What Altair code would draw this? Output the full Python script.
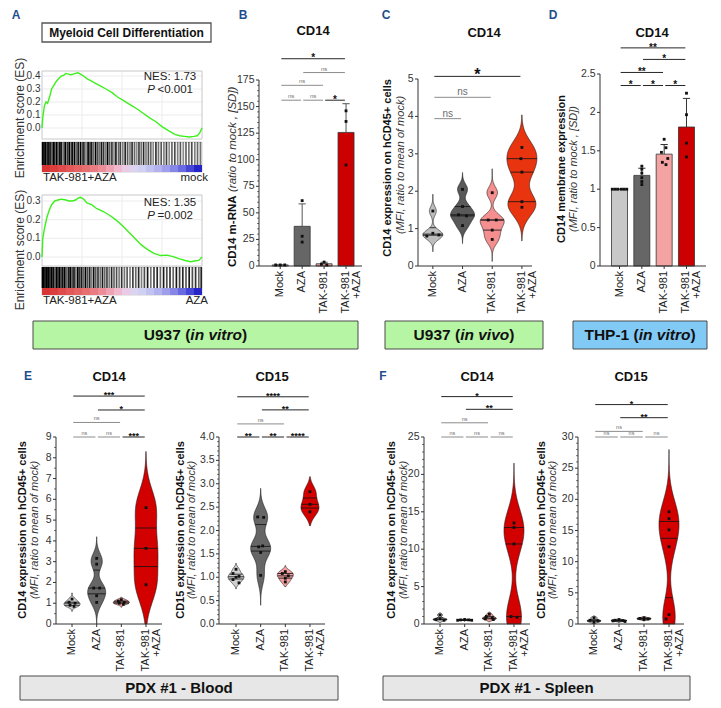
import altair as alt
import pandas as pd

FONT = "Liberation Sans"
LETTER = "#1f4e8c"
OX, OY = 8, 8           # page margin: page px -> chart px
W_ALL, H_ALL = 705, 692

# ------------------------------------------------------------------ texts
cat_labels = ["Mock", "AZA", "TAK-981", "TAK-981\n+AZA"]
gsea_title = "Myeloid Cell Differentiation"
es_axis_title = "Enrichment score (ES)"
es1_stats = ["NES: 1.73", "P", "<0.001"]
es2_stats = ["NES: 1.35", "P", "=0.002"]
bc1_ends = ["TAK-981+AZA", "mock"]
bc2_ends = ["TAK-981+AZA", "AZA"]
b_ytitle = ["CD14 m-RNA", "(ratio to mock , [SD])"]
c_ytitle = ["CD14 expression on hCD45+ cells", "(MFI, ratio to mean of mock)"]
d_ytitle = ["CD14 membrane expression", "(MFI, ratio to mock , [SD])"]
cd15_ytitle = ["CD15 expression on hCD45+ cells", "(MFI, ratio to mean of mock)"]
banner_top = [("U937 (", "in vitro", ")"), ("U937 (", "in vivo", ")"), ("THP-1 (", "in vitro", ")")]
banner_bottom = ["PDX #1 - Blood", "PDX #1 - Spleen"]

# ------------------------------------------------------------------ tick values / labels
es1_ticks = [0.0, 0.1, 0.2, 0.3, 0.4]
es1_tlabels = ["0.0", "0.1", "0.2", "0.3", "0.4"]
es2_ticks = [0.0, 0.1, 0.2, 0.3]
es2_tlabels = ["0.0", "0.1", "0.2", "0.3"]
b_ticks = [0, 25, 50, 75, 100, 125, 150, 175]
b_tlabels = ["0", "25", "50", "75", "100", "125", "150", "175"]
c_ticks = [0, 1, 2, 3, 4, 5]
c_tlabels = ["0", "1", "2", "3", "4", "5"]
d_ticks = [0, 0.5, 1, 1.5, 2, 2.5]
d_tlabels = ["0", "0.5", "1", "1.5", "2", "2.5"]
e1_ticks = [0, 1, 2, 3, 4, 5, 6, 7, 8, 9]
e1_tlabels = ["0", "1", "2", "3", "4", "5", "6", "7", "8", "9"]
e2_ticks = [0, 0.5, 1, 1.5, 2, 2.5, 3, 3.5, 4]
e2_tlabels = ["0.0", "0.5", "1.0", "1.5", "2.0", "2.5", "3.0", "3.5", "4.0"]
f1_ticks = [0, 5, 10, 15, 20, 25]
f1_tlabels = ["0", "5", "10", "15", "20", "25"]
f2_ticks = [0, 5, 10, 15, 20, 25, 30]
f2_tlabels = ["0", "5", "10", "15", "20", "25", "30"]

# ------------------------------------------------------------------ A: GSEA
es1_rank = [0, 0.005, 0.015, 0.025, 0.035, 0.05, 0.06, 0.075, 0.09, 0.105, 0.12, 0.135, 0.15, 0.165,
            0.18, 0.195, 0.21, 0.225, 0.24, 0.26, 0.28, 0.31, 0.34, 0.37, 0.40, 0.44, 0.47, 0.51, 0.55,
            0.59, 0.63, 0.67, 0.71, 0.75, 0.79, 0.83, 0.86, 0.89, 0.92, 0.95, 0.97, 0.985, 1.0]
es1_score = [0, 0.08, 0.17, 0.20, 0.19, 0.25, 0.30, 0.33, 0.36, 0.38, 0.40, 0.405, 0.42, 0.415,
             0.41, 0.415, 0.42, 0.425, 0.415, 0.40, 0.38, 0.36, 0.34, 0.32, 0.30, 0.27, 0.24, 0.21, 0.18,
             0.15, 0.115, 0.08, 0.05, 0.01, -0.02, -0.05, -0.06, -0.065, -0.07, -0.065, -0.06, -0.04, 0.0]
es2_rank = [0, 0.005, 0.015, 0.03, 0.045, 0.06, 0.08, 0.10, 0.12, 0.15, 0.17, 0.19, 0.21, 0.225, 0.24,
            0.26, 0.28, 0.31, 0.34, 0.38, 0.42, 0.46, 0.50, 0.54, 0.58, 0.62, 0.66, 0.70, 0.74, 0.78,
            0.82, 0.86, 0.90, 0.93, 0.96, 0.98, 1.0]
es2_score = [0, 0.10, 0.15, 0.21, 0.25, 0.28, 0.30, 0.305, 0.31, 0.305, 0.30, 0.30, 0.305, 0.315, 0.32,
             0.31, 0.29, 0.28, 0.26, 0.245, 0.225, 0.20, 0.17, 0.135, 0.10, 0.065, 0.04, 0.02, 0.008, 0.01,
             0.002, -0.01, -0.02, -0.025, -0.02, -0.018, 0.0]
bc1_pos = [0.004, 0.012, 0.02, 0.03, 0.038, 0.05, 0.058, 0.07, 0.078, 0.09, 0.1, 0.112, 0.122, 0.135,
           0.145, 0.158, 0.17, 0.182, 0.19, 0.203, 0.215, 0.226, 0.24, 0.252, 0.262, 0.275, 0.288, 0.3,
           0.31, 0.322, 0.335, 0.348, 0.36, 0.372, 0.385, 0.398, 0.41, 0.423, 0.437, 0.45, 0.462, 0.478,
           0.49, 0.505, 0.52, 0.535, 0.55, 0.563, 0.578, 0.592, 0.606, 0.62, 0.635, 0.65, 0.665, 0.68,
           0.695, 0.712, 0.728, 0.745, 0.762, 0.778, 0.795, 0.812, 0.83, 0.848, 0.865, 0.883, 0.9, 0.918,
           0.936, 0.955, 0.972, 0.99]
bc1_shade = [1, 0.9, 1, 0.7, 1, 0.95, 0.6, 1, 0.85, 1, 0.7, 1, 0.9, 0.55, 1, 0.8, 1, 0.65, 0.95, 1,
             0.6, 0.9, 1, 0.7, 0.85, 0.5, 1, 0.75, 0.9, 0.6, 1, 0.7, 0.55, 0.9, 0.8, 0.5, 1, 0.65, 0.8,
             0.45, 0.9, 0.6, 0.75, 0.5, 0.85, 0.65, 0.5, 0.8, 0.6, 0.45, 0.75, 0.55, 0.85, 0.5, 0.7, 0.6,
             0.45, 0.8, 0.55, 0.65, 0.5, 0.75, 0.45, 0.6, 0.7, 0.5, 0.65, 0.45, 0.6, 0.55, 0.7, 0.5, 0.6,
             0.55]
bc2_pos = [0.003, 0.01, 0.018, 0.026, 0.035, 0.043, 0.052, 0.06, 0.07, 0.08, 0.09, 0.1, 0.11, 0.12,
           0.13, 0.142, 0.153, 0.165, 0.176, 0.188, 0.2, 0.212, 0.224, 0.236, 0.248, 0.26, 0.272, 0.285,
           0.298, 0.31, 0.323, 0.336, 0.35, 0.364, 0.378, 0.392, 0.406, 0.42, 0.435, 0.45, 0.466, 0.482,
           0.498, 0.515, 0.532, 0.55, 0.568, 0.586, 0.604, 0.622, 0.64, 0.66, 0.68, 0.7, 0.72, 0.74, 0.76,
           0.78, 0.8, 0.82, 0.84, 0.86, 0.88, 0.9, 0.92, 0.94, 0.96, 0.98, 0.995]
bc2_shade = [1, 1, 0.8, 1, 0.9, 1, 0.7, 1, 0.95, 0.6, 1, 0.85, 1, 0.7, 0.95, 1, 0.6, 0.9, 1, 0.75,
             0.95, 0.55, 1, 0.8, 0.9, 0.6, 1, 0.7, 0.85, 0.5, 0.95, 0.65, 0.8, 0.55, 0.9, 0.6, 0.75, 0.5,
             0.85, 0.6, 0.7, 0.5, 0.8, 0.55, 0.65, 0.5, 0.75, 0.6, 0.85, 0.5, 0.7, 0.9, 0.55, 0.75, 0.85,
             0.6, 0.9, 0.7, 0.8, 0.6, 0.9, 0.75, 0.85, 0.65, 0.9, 0.7, 0.8, 0.6, 0.85]
grad_pos = [0.0, 0.05, 0.1, 0.15, 0.2, 0.25, 0.3, 0.35, 0.4, 0.45, 0.5, 0.55, 0.6, 0.65, 0.7, 0.75,
            0.8, 0.85, 0.9, 0.95]
grad_col = ["#d93434", "#dc3d3d", "#df4a4a", "#e25757", "#e46464", "#e67070", "#e87c82", "#eb8c96",
            "#eea2b2", "#f0b8cc", "#e9cbe6", "#dcd3f1", "#d0d0f2", "#c2c2f0", "#b2b2ee", "#9e9eea",
            "#8686e6", "#6a6ae0", "#4646d6", "#2424c8"]

# ------------------------------------------------------------------ B: CD14 mRNA (U937 in vitro)
b_vals = [[1.0, 1.0, 1.0], [61.5, 28.0, 22.5], [3.7, 1.6, 1.0], [146.0, 136.0, 95.0]]
b_offs = [[-5, 0, 5], [0, 0, 0], [0, -3, 3], [0, 0, 0]]
b_br = [(1, 4, 195, "*"), (2, 4, 182, "ns"), (1, 3, 170, "ns"),
        (1, 2, 156, "ns"), (2, 3, 156, "ns"), (3, 4, 156, "*")]

# ------------------------------------------------------------------ C: CD14 (U937 in vivo)
c_vals = [[1.47, 0.875, 0.80, 0.83], [2.05, 1.59, 1.37, 1.34, 1.08],
          [1.96, 1.23, 1.23, 0.96, 0.71], [3.17, 2.87, 2.51, 1.72, 1.57]]
c_offs = [[0, 0, -6, 6], [0, 0, -4, 4, 0], [0, -4, 4, 0, 0], [0, -1, 0, 0, 0]]
c_bw = [0, 0, 0, 0.3]
c_ext = [[0.38, 1.92], [0.6, 2.5], [0.12, 2.6], [0.67, 4.04]]
c_br = [(1, 4, 5.07, "*"), (1, 3, 4.51, "ns"), (1, 2, 3.94, "ns")]

# ------------------------------------------------------------------ D: CD14 membrane (THP-1)
d_vals = [[1.0, 1.0, 1.0, 1.0, 1.0, 1.0], [1.30, 1.26, 1.21, 1.15, 1.10, 1.06],
          [1.65, 1.54, 1.48, 1.40, 1.35, 1.32], [2.25, 1.97, 1.60, 1.42]]
d_offs = [[-8, -5, -2, 2, 5, 8], [0, 0, 0, 0, 0, 0], [0, 2, -3, 4, -2, 2], [0, 0, 0, 0]]
d_br = [(1, 4, 2.84, "**"), (2, 4, 2.69, "*"), (1, 3, 2.52, "**"),
        (1, 2, 2.35, "*"), (2, 3, 2.35, "*"), (3, 4, 2.35, "*")]

# ------------------------------------------------------------------ E: PDX blood
e1_vals = [[1.2, 1.05, 1.0, 0.9, 0.85], [3.16, 2.88, 1.73, 1.73, 1.36, 1.04],
           [1.17, 1.1, 1.05, 1.0, 0.95], [5.6, 3.64, 1.89]]
e1_offs = [[0, -3, 3, -2, 2], [0, 0, -3, 3, 0, 0], [0, -3, 3, -2, 2], [0, 0, 0]]
e1_bw = [0, 0.35, 0, 0.9]
e1_ext = [[0.6, 1.5], [0.0, 4.2], [0.8, 1.3], [0.0, 8.3]]
e1_br = [(1, 4, 10.97, "***"), (2, 4, 10.3, "*"), (1, 3, 9.7, "ns"),
         (1, 2, 9.0, "ns"), (2, 3, 9.0, "ns"), (3, 4, 9.0, "***")]

e2_vals = [[1.17, 1.08, 1.02, 1.0, 0.95, 0.88], [2.29, 2.28, 1.67, 1.65, 1.53, 1.04],
           [1.12, 1.08, 1.03, 0.98, 0.9], [2.83, 2.56, 2.4]]
e2_offs = [[0, -3, 3, 0, -3, 3], [-3, 3, 2, -2, 0, 0], [0, -3, 3, 0, 0], [0, 0, 0]]
e2_bw = [0, 0.2, 0, 0]
e2_ext = [[0.75, 1.3], [0.4, 2.9], [0.8, 1.25], [2.1, 3.15]]
e2_br = [(1, 4, 4.86, "****"), (2, 4, 4.58, "**"), (1, 3, 4.28, "ns"),
         (1, 2, 4.0, "**"), (2, 3, 4.0, "**"), (3, 4, 4.0, "****")]

# ------------------------------------------------------------------ F: PDX spleen
f1_vals = [[1.2, 0.7, 0.6, 0.5], [0.6, 0.55, 0.55, 0.5, 0.5],
           [1.3, 1.0, 0.8, 0.7, 0.6], [13.5, 12.9, 10.7, 1.0, 0.9]]
f1_offs = [[0, 0, -4, 4], [0, -4, 4, -7, 7], [0, -3, 3, -4, 4], [0, 0, 0, -3, 3]]
f1_bw = [0, 0, 0, 2.5]
f1_ext = [[0.2, 1.5], [0.35, 0.75], [0.3, 1.6], [0.0, 21.5]]
f1_br = [(1, 4, 30.4, "*"), (2, 4, 28.7, "**"), (1, 3, 26.9, "ns"),
         (1, 2, 25, "ns"), (2, 3, 25, "ns"), (3, 4, 25, "ns")]

f2_vals = [[1.0, 0.6, 0.5, 0.3], [0.7, 0.6, 0.55, 0.5, 0.4],
           [1.0, 0.9, 0.8, 0.7], [18.0, 16.9, 15.1, 12.4, 1.5, 0.8]]
f2_offs = [[0, -4, 4, 0], [0, -4, 4, -6, 6], [0, -4, 4, 0], [0, 0, 0, 0, 0, -3]]
f2_bw = [0, 0, 0, 3.0]
f2_ext = [[0.1, 1.3], [0.2, 0.9], [0.5, 1.2], [0.0, 28.0]]
f2_br = [(1, 4, 35.2, "*"), (2, 4, 33.1, "**"), (1, 3, 30.9, "ns"),
         (1, 2, 30, "ns"), (2, 3, 30, "ns"), (3, 4, 30, "ns")]

# ------------------------------------------------------------------ styles
bar_colors = ["#c8c8c8", "#666666", "#f4a3a3", "#cc0000"]
c_colors = ["#bdbdbd", "#595959", "#f58f8f", "#e8340f"]
ef_colors = ["#cfcfcf", "#666666", "#f2a0a0", "#d30000"]
c_hw = [10, 12, 12, 15]
e1_hw = [8, 9, 8, 12]
e2_hw = [8, 10, 8, 9]
f1_hw = [7, 7, 7, 10]
f2_hw = [7, 8, 7, 10]

BOLD_W = {'U': .722, '9': .556, '3': .556, '7': .556, ' ': .278, '(': .333, ')': .333, 'i': .278,
          'n': .611, 'v': .556, 't': .333, 'r': .389, 'o': .611, 'T': .611, 'H': .722, 'P': .667,
          '-': .333, '1': .556}


def tw(s, fs):
    return sum(BOLD_W.get(c, 0.6) for c in s) * fs


def one():
    return pd.DataFrame({"t": [0]})


def txt(s, x, y, size=11, weight="normal", style="normal", color="#222222",
        align="center", baseline="middle", angle=0):
    """Annotation text at page pixel (x, y)."""
    mk = dict(fontSize=size, fontWeight=weight, fontStyle=style, color=color,
              align=align, baseline=baseline)
    if angle:
        mk["angle"] = angle
    return alt.Chart(pd.DataFrame({"t": [s]})).mark_text(**mk).encode(
        text="t:N", x=alt.value(x - OX), y=alt.value(y - OY))


def scales(L, T, w, h, xdom, ydom):
    XS = alt.Scale(domain=xdom, range=[L - OX, L + w - OX], nice=False, zero=False)
    YS = alt.Scale(domain=ydom, range=[T + h - OY, T - OY], nice=False, zero=False)
    return XS, YS


def box(L, T, w, h, fill, stroke, sw, fill_opacity=1.0):
    """Frame / banner background at page pixels."""
    return alt.Chart(one()).mark_rect(fill=fill, fillOpacity=fill_opacity, stroke=stroke,
                                      strokeWidth=sw).encode(
        x=alt.value(L - OX), x2=alt.value(L + w - OX), y=alt.value(T - OY), y2=alt.value(T + h - OY))


def y_axis(L, T, h, YS, ticks, labels, minor=None, fs=10.5, color="#333333", domain=True, tick_len=3,
           label_gap=1.5, label_color="#333333"):
    x = L - OX
    out = []
    if domain:
        out.append(alt.Chart(one()).mark_rule(color=color, strokeWidth=1).encode(
            x=alt.value(x), y=alt.value(T - OY), y2=alt.value(T + h - OY)))
    if tick_len > 0:
        out.append(alt.Chart(pd.DataFrame({"v": ticks})).mark_rule(color=color, strokeWidth=1).encode(
            x=alt.value(x - tick_len), x2=alt.value(x), y=alt.Y("v:Q", scale=YS, axis=None)))
    if minor:
        out.append(alt.Chart(pd.DataFrame({"v": minor})).mark_rule(color=color, strokeWidth=0.8).encode(
            x=alt.value(x - 1.8), x2=alt.value(x), y=alt.Y("v:Q", scale=YS, axis=None)))
    out.append(alt.Chart(pd.DataFrame({"v": ticks, "lab": labels})).mark_text(
        align="right", baseline="middle", fontSize=fs, color=label_color).encode(
        x=alt.value(x - tick_len - label_gap), y=alt.Y("v:Q", scale=YS, axis=None), text="lab:N"))
    return out


def x_cat_axis(L, T, w, h, XS):
    yb = T + h - OY
    d = pd.DataFrame({"idx": [1, 2, 3, 4], "lab": cat_labels})
    return [
        alt.Chart(one()).mark_rule(color="#333333", strokeWidth=1).encode(
            x=alt.value(L - OX), x2=alt.value(L + w - OX), y=alt.value(yb)),
        alt.Chart(d).mark_rule(color="#333333", strokeWidth=1).encode(
            x=alt.X("idx:Q", scale=XS, axis=None), y=alt.value(yb), y2=alt.value(yb + 3)),
        alt.Chart(d).mark_text(angle=270, align="right", baseline="middle", fontSize=11, lineBreak="\n",
                               lineHeight=11, color="#222222").encode(
            x=alt.X("idx:Q", scale=XS, axis=None), y=alt.value(yb + 5), text="lab:N"),
    ]


# ------------------------------------------------------------------ A
def es_panel(rank, score, L, T, w, h, ydom, yticks, ylabels, stats, sy, title_cy):
    XS, YS = scales(L, T, w, h, [0, 1], ydom)
    d = pd.DataFrame({"rank": rank, "es": score})
    gy = pd.DataFrame({"y": yticks})
    gx = pd.DataFrame({"x": [0.25, 0.5, 0.75]})
    layers = [
        alt.Chart(gy).mark_rule(color="#ececec", strokeWidth=1).encode(
            x=alt.value(L - OX), x2=alt.value(L + w - OX), y=alt.Y("y:Q", scale=YS, axis=None)),
        alt.Chart(gx).mark_rule(color="#ececec", strokeWidth=1).encode(
            x=alt.X("x:Q", scale=XS, axis=None), y=alt.value(T - OY), y2=alt.value(T + h - OY)),
        box(L, T, w, h, "white", "#c8c8c8", 1, 0.0),
        alt.Chart(d).mark_line(color="#3cf01c", strokeWidth=1.4).encode(
            x=alt.X("rank:Q", scale=XS, axis=None), y=alt.Y("es:Q", scale=YS, axis=None)),
        txt(stats[0], 170, sy - 0.5, size=11.5),
        txt(stats[1], 155, sy + 12.5, size=11.5, style="italic", align="right"),
        txt(stats[2], 157.5, sy + 12.5, size=11.5, align="left"),
        txt(es_axis_title, 20, title_cy, size=12, color="#333333", angle=270),
    ]
    layers += y_axis(L, T, h, YS, yticks, ylabels, fs=10, color="#999999", domain=False, tick_len=0,
                     label_gap=1.5)
    return alt.layer(*layers)


def barcode(pos, shade, L, T, w, h, ends):
    XS, YS = scales(L, T, w, h, [0, 1], [0, h])
    n = min(len(pos), len(shade))
    d = pd.DataFrame({"p": pos[:n], "k": shade[:n]})
    g = pd.DataFrame({"s": grad_pos, "e": grad_pos[1:] + [1.0], "c": grad_col})
    layers = [
        box(L, T, w, h, "white", "#cfcfcf", 1, 1.0),
        alt.Chart(d).transform_calculate(a="7", b=str(h)).mark_rule(strokeWidth=1.7, color="#000000").encode(
            x=alt.X("p:Q", scale=XS, axis=None), y=alt.Y("a:Q", scale=YS, axis=None), y2="b:Q",
            opacity=alt.Opacity("k:Q", scale=None)),
        alt.Chart(g).transform_calculate(a="0", b="7").mark_rect().encode(
            x=alt.X("s:Q", scale=XS, axis=None), x2="e:Q", y=alt.Y("a:Q", scale=YS, axis=None), y2="b:Q",
            color=alt.Color("c:N", scale=None)),
        txt(ends[0], L + 1, T + h + 6, size=11.5, align="left"),
        txt(ends[1], L + w + 6, T + h + 6, size=11.5, align="right"),
    ]
    return alt.layer(*layers)


panel_a = [
    alt.layer(box(42, 23, 169, 19, "white", "#555555", 1.3),
              txt(gsea_title, 126.5, 32.5, size=12, weight="bold", color="#111111"),
              txt("A", 16, 15, size=12, weight="bold", color=LETTER)),
    es_panel(es1_rank, es1_score, 42, 71, 160, 68, [-0.085, 0.4385], es1_ticks, es1_tlabels,
             es1_stats, 77, 118),
    barcode(bc1_pos, bc1_shade, 42, 142, 160, 30, bc1_ends),
    es_panel(es2_rank, es2_score, 42, 195, 160, 71, [-0.048, 0.332], es2_ticks, es2_tlabels,
             es2_stats, 203, 250),
    barcode(bc2_pos, bc2_shade, 42, 267, 160, 28, bc2_ends),
]


# ------------------------------------------------------------------ measurement panels
def panel(p):
    g = p["geo"]
    L, T, w, h = g["left"], g["top"], g["w"], g["h"]
    ppu = w / (g["x1"] - g["x0"])
    XS, YS = scales(L, T, w, h, [g["x0"], g["x1"]], [0, g["ymax"]])
    rows = []
    for i, (vs, os_) in enumerate(zip(p["vals"], p["offs"])):
        for v, o in zip(vs, os_):
            rows.append({"idx": i + 1, "val": v, "off": o, "col": p["colors"][i]})
    pts = pd.DataFrame(rows)
    layers = []
    if p["kind"] == "bar":
        bars = alt.Chart(pts).mark_bar(size=p["barw"], stroke="#333333", strokeWidth=0.8).encode(
            x=alt.X("idx:Q", scale=XS, axis=None), y=alt.Y("mean(val):Q", scale=YS, axis=None),
            color=alt.Color("col:N", scale=None))
        cap = p["capw"] / ppu
        err = alt.Chart(pts).transform_aggregate(
            m="mean(val)", s="stdev(val)", groupby=["idx"]).transform_calculate(
            hi="datum.m + (isValid(datum.s) ? datum.s : 0)",
            xa=f"datum.idx - {cap}", xb=f"datum.idx + {cap}")
        layers += [
            bars,
            err.mark_rule(color=p["errc"], strokeWidth=1).encode(
                x=alt.X("idx:Q", scale=XS, axis=None), y=alt.Y("m:Q", scale=YS, axis=None), y2="hi:Q"),
            err.mark_rule(color=p["errc"], strokeWidth=1).encode(
                x=alt.X("xa:Q", scale=XS, axis=None), x2="xb:Q", y=alt.Y("hi:Q", scale=YS, axis=None)),
        ]
    else:
        areas, lines = [], []
        for i in range(4):
            d = pd.DataFrame({"val": p["vals"][i]})
            kw = dict(as_=["v", "density"], groupby=["q1", "med", "q3"], extent=p["ext"][i], steps=200)
            if p["bw"][i] > 0:
                kw["bandwidth"] = p["bw"][i]
            hw = p["hw"][i] / ppu
            base = (alt.Chart(d)
                    .transform_joinaggregate(q1="q1(val)", med="median(val)", q3="q3(val)")
                    .transform_density("val", **kw)
                    .transform_joinaggregate(maxd="max(density)")
                    .transform_calculate(xl=f"{i + 1} - datum.density / datum.maxd * {hw}",
                                         xr=f"{i + 1} + datum.density / datum.maxd * {hw}"))
            areas.append(base.mark_area(orient="horizontal", color=p["colors"][i], stroke="#1a1a1a",
                                        strokeWidth=0.6).encode(
                y=alt.Y("v:Q", scale=YS, axis=None),
                x=alt.X("xl:Q", scale=XS, axis=None), x2="xr:Q"))
            lines.append(base.transform_fold(["q1", "med", "q3"], as_=["stat", "sv"])
                         .transform_calculate(diff="abs(datum.v - datum.sv)")
                         .transform_window(rk="row_number()", groupby=["stat"],
                                           sort=[alt.SortField("diff", order="ascending")])
                         .transform_filter("datum.rk == 1")
                         .mark_rule(color="#111111", strokeWidth=0.8)
                         .encode(y=alt.Y("sv:Q", scale=YS, axis=None),
                                 x=alt.X("xl:Q", scale=XS, axis=None), x2="xr:Q"))
        layers += areas + lines
    # axes (drawn from the panel's own scales)
    layers += y_axis(L, T, h, YS, p["yticks"], p["ylabels"], minor=p.get("minor"))
    layers += x_cat_axis(L, T, w, h, XS)
    # significance brackets
    br = pd.DataFrame(p["br"], columns=["a", "b", "y", "lab"])
    bbase = alt.Chart(br).transform_calculate(
        xa="datum.a + 0.05", xb="datum.b - 0.05", mid="(datum.a + datum.b) / 2",
        col="datum.lab == 'ns' ? '#8c8c8c' : '#262626'")
    layers.append(bbase.mark_rule(strokeWidth=1).encode(
        x=alt.X("xa:Q", scale=XS, axis=None), x2="xb:Q", y=alt.Y("y:Q", scale=YS, axis=None),
        color=alt.Color("col:N", scale=None)))
    sfs, nfs = p["star_fs"], p["ns_fs"]
    layers.append(bbase.transform_filter("datum.lab != 'ns'").mark_text(
        fontSize=sfs, fontWeight="bold", baseline="alphabetic", dy=sfs * 0.57 - p["star_gap"],
        color="#111111").encode(x=alt.X("mid:Q", scale=XS, axis=None),
                                y=alt.Y("y:Q", scale=YS, axis=None), text="lab:N"))
    layers.append(bbase.transform_filter("datum.lab == 'ns'").mark_text(
        fontSize=nfs, baseline="alphabetic", dy=-2, color="#6e6e6e").encode(
        x=alt.X("mid:Q", scale=XS, axis=None), y=alt.Y("y:Q", scale=YS, axis=None), text="lab:N"))
    # points
    layers.append(alt.Chart(pts).transform_calculate(xx=f"datum.idx + datum.off / {ppu}").mark_point(
        shape="square", filled=True, size=8, color="#111111", opacity=1).encode(
        x=alt.X("xx:Q", scale=XS, axis=None), y=alt.Y("val:Q", scale=YS, axis=None)))
    # texts (page coordinates)
    tx, ty = p["title_xy"]
    layers.append(txt(p["title"], tx, ty, size=13, weight="bold", color="#111111"))
    if p.get("letter"):
        lx, ly = p["letter_xy"]
        layers.append(txt(p["letter"], lx, ly, size=12, weight="bold", color=LETTER))
    for (s, x, y, wgt, sty, al) in p["ytitle"]:
        layers.append(txt(s, x, y, size=p.get("yt_fs", 11), weight=wgt, style=sty, align=al,
                          angle=270, color="#111111" if wgt == "bold" else "#333333"))
    return alt.layer(*layers)


def minor_ticks(step, top, majors):
    out, k = [], 1
    while k * step < top - 1e-9:
        v = round(k * step, 6)
        if all(abs(v - m) > 1e-9 for m in majors):
            out.append(v)
        k += 1
    return out


P_B = dict(kind="bar", geo=dict(left=259, top=80, w=103, h=186, x0=0.26, x1=4.5, ymax=175),
           vals=b_vals, offs=b_offs, colors=bar_colors, barw=16, capw=4, errc="#555555", br=b_br,
           star_fs=10, ns_fs=6, star_gap=3, yticks=b_ticks, ylabels=b_tlabels,
           minor=minor_ticks(5, 175, b_ticks),
           title="CD14", title_xy=(313, 31), letter="B", letter_xy=(243, 15), yt_fs=11.5,
           ytitle=[(b_ytitle[0], 233, 267, "bold", "normal", "left"),
                   (b_ytitle[1], 233, 192, "normal", "italic", "left")])
P_C = dict(kind="violin", geo=dict(left=418, top=79, w=114, h=187, x0=0.5, x1=4.34, ymax=5),
           vals=c_vals, offs=c_offs, colors=c_colors, bw=c_bw, ext=c_ext, hw=c_hw, br=c_br,
           star_fs=16, ns_fs=10, star_gap=6, yticks=c_ticks, ylabels=c_tlabels,
           title="CD14", title_xy=(484, 33), letter="C", letter_xy=(386, 15),
           ytitle=[(c_ytitle[0], 388, 168, "bold", "normal", "center"),
                   (c_ytitle[1], 401, 165, "normal", "italic", "center")])
P_D = dict(kind="bar", geo=dict(left=600, top=74, w=106, h=192, x0=0.35, x1=4.65, ymax=2.5),
           vals=d_vals, offs=d_offs, colors=bar_colors, barw=16, capw=4, errc="#333333", br=d_br,
           star_fs=10, ns_fs=6, star_gap=3, yticks=d_ticks, ylabels=d_tlabels,
           title="CD14", title_xy=(652, 33), letter="D", letter_xy=(553, 15),
           ytitle=[(d_ytitle[0], 562, 169, "bold", "normal", "center"),
                   (d_ytitle[1], 574, 169, "normal", "italic", "center")])
P_E1 = dict(kind="violin", geo=dict(left=56, top=437, w=106, h=187, x0=0.35, x1=4.65, ymax=9),
            vals=e1_vals, offs=e1_offs, colors=ef_colors, bw=e1_bw, ext=e1_ext, hw=e1_hw, br=e1_br,
            star_fs=9, ns_fs=5.5, star_gap=3, yticks=e1_ticks, ylabels=e1_tlabels,
            minor=minor_ticks(0.5, 9, e1_ticks),
            title="CD14", title_xy=(109, 377), letter="E", letter_xy=(28, 376),
            ytitle=[(c_ytitle[0], 23, 530, "bold", "normal", "center"),
                    (c_ytitle[1], 35, 530, "normal", "italic", "center")])
P_E2 = dict(kind="violin", geo=dict(left=219, top=437, w=106, h=187, x0=0.31, x1=4.61, ymax=4),
            vals=e2_vals, offs=e2_offs, colors=ef_colors, bw=e2_bw, ext=e2_ext, hw=e2_hw, br=e2_br,
            star_fs=9, ns_fs=5.5, star_gap=3, yticks=e2_ticks, ylabels=e2_tlabels,
            minor=minor_ticks(0.1, 4, e2_ticks),
            title="CD15", title_xy=(272, 377),
            ytitle=[(cd15_ytitle[0], 181, 530, "bold", "normal", "center"),
                    (cd15_ytitle[1], 192, 530, "normal", "italic", "center")])
P_F1 = dict(kind="violin", geo=dict(left=424, top=437, w=106, h=187, x0=0.35, x1=4.65, ymax=25),
            vals=f1_vals, offs=f1_offs, colors=ef_colors, bw=f1_bw, ext=f1_ext, hw=f1_hw, br=f1_br,
            star_fs=9, ns_fs=5.5, star_gap=3, yticks=f1_ticks, ylabels=f1_tlabels,
            minor=minor_ticks(1, 25, f1_ticks),
            title="CD14", title_xy=(477, 377), letter="F", letter_xy=(383, 376),
            ytitle=[(c_ytitle[0], 392, 530, "bold", "normal", "center"),
                    (c_ytitle[1], 404, 530, "normal", "italic", "center")])
P_F2 = dict(kind="violin", geo=dict(left=578, top=437, w=106, h=187, x0=0.36, x1=4.6, ymax=30),
            vals=f2_vals, offs=f2_offs, colors=ef_colors, bw=f2_bw, ext=f2_ext, hw=f2_hw, br=f2_br,
            star_fs=9, ns_fs=5.5, star_gap=3, yticks=f2_ticks, ylabels=f2_tlabels,
            minor=minor_ticks(1, 30, f2_ticks),
            title="CD15", title_xy=(631, 377),
            ytitle=[(cd15_ytitle[0], 542, 530, "bold", "normal", "center"),
                    (cd15_ytitle[1], 553, 530, "normal", "italic", "center")])


def banner(L, T, w, h, fill, parts, fs, stroke="#4a4a4a"):
    cx, cy = L + w / 2, T + h / 2
    layers = [box(L, T, w, h, fill, stroke, 1)]
    if len(parts) == 1:
        layers.append(txt(parts[0], cx, cy, size=fs, weight="bold", color="#111111"))
    else:
        lw, iw, rw = tw(parts[0], fs), tw(parts[1], fs), tw(parts[2], fs)
        start = cx - (lw + iw + rw) / 2
        layers += [txt(parts[0], start + lw, cy, size=fs, weight="bold", align="right", color="#111111"),
                   txt(parts[1], start + lw + iw / 2, cy, size=fs, weight="bold", style="italic",
                       color="#111111"),
                   txt(parts[2], start + lw + iw, cy, size=fs, weight="bold", align="left",
                       color="#111111")]
    return alt.layer(*layers)


banners = [
    banner(33, 321, 325, 28, "#b6f5a4", banner_top[0], 15.5),
    banner(385, 321, 158, 28, "#b6f5a4", banner_top[1], 15.5),
    banner(573, 321, 134, 28, "#82caf6", banner_top[2], 15.5),
    banner(20, 676, 318, 24, "#e7e7e7", [banner_bottom[0]], 15),
    banner(383, 676, 307, 24, "#e7e7e7", [banner_bottom[1]], 15),
]

all_layers = panel_a + [panel(P_B), panel(P_C), panel(P_D), panel(P_E1), panel(P_E2),
                        panel(P_F1), panel(P_F2)] + banners

chart = (alt.layer(*all_layers)
         .resolve_scale(x="independent", y="independent")
         .properties(width=W_ALL, height=H_ALL, padding=0)
         .configure(font=FONT)
         .configure_view(stroke=None))

chart.save("out.html", embed_options={"renderer": "svg", "actions": False})
